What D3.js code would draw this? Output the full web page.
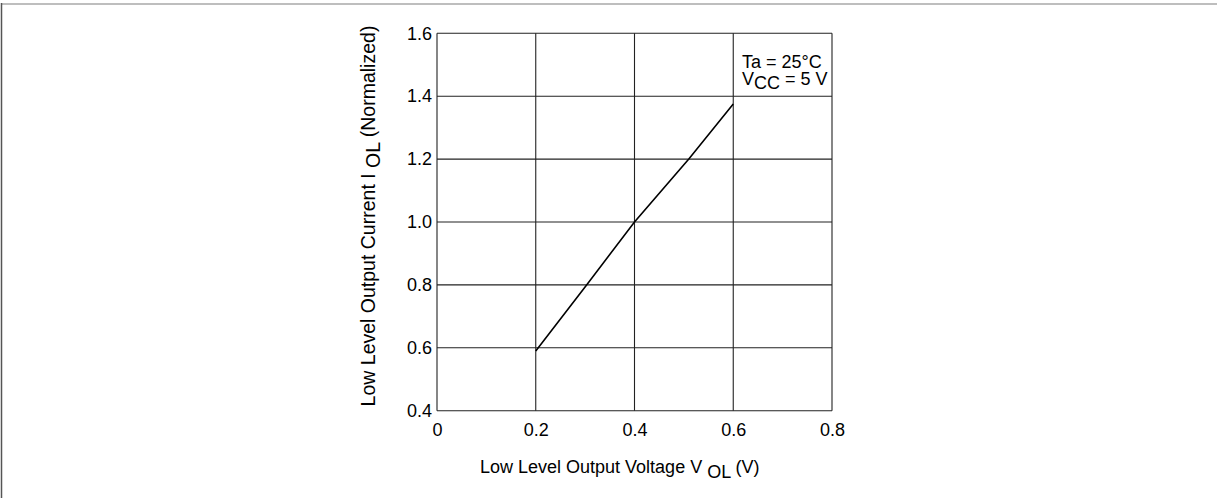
<!DOCTYPE html>
<html>
<head>
<meta charset="utf-8">
<script src="https://cdn.jsdelivr.net/npm/d3@7/dist/d3.min.js"></script>
<style>
html, body { margin: 0; padding: 0; background: #fff; }
svg { display: block; font-family: "Liberation Sans", Arial, sans-serif; }
</style>
</head>
<body>
<svg id="chart" width="1217" height="498"></svg>
<script>
const voltage = [0.2, 0.303, 0.4, 0.51, 0.6];
const current = [0.59, 0.8, 1.0, 1.2, 1.375];
const xTicks = [0, 0.2, 0.4, 0.6, 0.8];
const yTicks = [0.4, 0.6, 0.8, 1.0, 1.2, 1.4, 1.6];
const xTickLabels = ["0", "0.2", "0.4", "0.6", "0.8"];
const yTickLabels = ["0.4", "0.6", "0.8", "1.0", "1.2", "1.4", "1.6"];

const svg = d3.select("#chart");
const pL = 437, pR = 832, pT = 33.3, pB = 410.7;
const FS = 18;

// page frame
svg.append("line").attr("x1", 1).attr("x2", 1217).attr("y1", 4).attr("y2", 4)
  .attr("stroke", "#a8a8a8").attr("stroke-width", 1.5);
svg.append("line").attr("x1", 1.5).attr("x2", 1.5).attr("y1", 3).attr("y2", 498)
  .attr("stroke", "#555").attr("stroke-width", 1.5);

const x = d3.scaleLinear().domain([0, 0.8]).range([pL, pR]);
const y = d3.scaleLinear().domain([0.4, 1.6]).range([pB, pT]);

const g = svg.append("g");
// grid
g.selectAll(".vg").data(xTicks).enter().append("line")
  .attr("x1", d => x(d)).attr("x2", d => x(d)).attr("y1", pT).attr("y2", pB)
  .attr("stroke", "#222").attr("stroke-width", 1.1);
g.selectAll(".hg").data(yTicks).enter().append("line")
  .attr("x1", pL).attr("x2", pR).attr("y1", d => y(d)).attr("y2", d => y(d))
  .attr("stroke", "#222").attr("stroke-width", 1.1);

// axes labels via d3 axes (no domain lines / ticks)
const xAxis = d3.axisBottom(x).tickValues(xTicks).tickFormat((d, i) => xTickLabels[i]).tickSize(0);
const yAxis = d3.axisLeft(y).tickValues(yTicks).tickFormat((d, i) => yTickLabels[i]).tickSize(0).tickPadding(5);
const xa = svg.append("g").attr("transform", `translate(0,${pB})`).call(xAxis);
const ya = svg.append("g").attr("transform", `translate(${pL},0)`).call(yAxis);
[xa, ya].forEach(a => {
  a.attr("font-size", FS).attr("font-family", "'Liberation Sans', Arial, sans-serif");
  a.select(".domain").remove();
  a.selectAll("text").attr("fill", "#000");
});
xa.selectAll("text").attr("dy", null).attr("y", 436 - pB);

// data line
const line = d3.line().x((d, i) => x(voltage[i])).y(d => y(d));
svg.append("path").datum(current).attr("d", line)
  .attr("fill", "none").attr("stroke", "#000").attr("stroke-width", 1.6);

// annotation
const ann = svg.append("g").attr("font-size", FS).attr("fill", "#000");
ann.append("text").attr("x", 742).attr("y", 67.5).text("Ta = 25°C");
const t2 = ann.append("text").attr("x", 742).attr("y", 85);
t2.append("tspan").text("V");
t2.append("tspan").attr("dy", 4).text("CC");
t2.append("tspan").attr("dy", -4).text(" = 5 V");

// x title
const xt = svg.append("text").attr("x", 480).attr("y", 473).attr("font-size", FS).attr("fill", "#000");
xt.append("tspan").text("Low Level Output Voltage V ");
xt.append("tspan").attr("dy", 5).text("OL");
xt.append("tspan").attr("dy", -5).text(" (V)");

// y title
const yt = svg.append("text")
  .attr("transform", `translate(375,216) rotate(-90)`)
  .attr("text-anchor", "middle").attr("font-size", 19.5).attr("fill", "#000");
yt.append("tspan").text("Low Level Output Current I ");
yt.append("tspan").attr("dy", 5).text("OL");
yt.append("tspan").attr("dy", -5).text(" (Normalized)");
</script>
</body>
</html>
